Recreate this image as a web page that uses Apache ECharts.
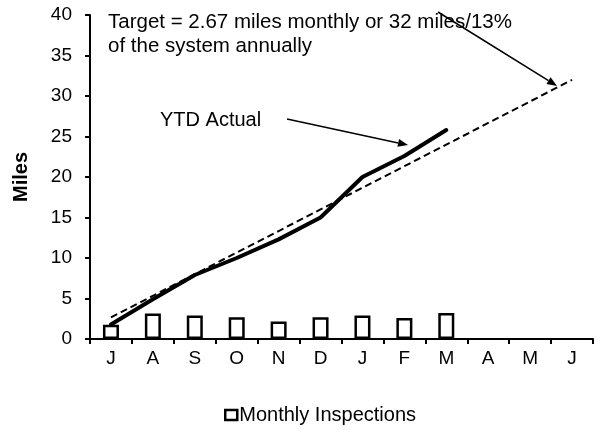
<!DOCTYPE html>
<html>
<head>
<meta charset="utf-8">
<script src="https://cdn.jsdelivr.net/npm/echarts@6/dist/echarts.min.js"></script>
<style>html,body{margin:0;padding:0;background:#fff;}#c{width:609px;height:430px;}</style>
</head>
<body>
<div id="c"></div>
<script>
const months = ['J','A','S','O','N','D','J','F','M','A','M','J'];
const monthlyInspections = [1.75, 3.15, 2.9, 2.7, 2.15, 2.7, 2.9, 2.6, 3.2, null, null, null];
const ytdActual = [1.8, 4.9, 7.9, 10.0, 12.3, 15.0, 20.0, 22.6, 25.8, null, null, null];
const target = [2.67, 5.33, 8.0, 10.67, 13.33, 16.0, 18.67, 21.33, 24.0, 26.67, 29.33, 32.0];
const yTicks = { min: 0, max: 40, interval: 5 };

const FONT = 'Liberation Sans, Arial, sans-serif';

function arrow(x1, y1, x2, y2) {
  const dx = x2 - x1, dy = y2 - y1, L = Math.hypot(dx, dy);
  const ux = dx / L, uy = dy / L, hl = 10, hw = 4;
  const bx = x2 - ux * hl, by = y2 - uy * hl;
  return [
    { type: 'line', z: 100, shape: { x1: x1, y1: y1, x2: bx, y2: by }, style: { stroke: '#000', lineWidth: 1.5 } },
    { type: 'polygon', z: 100, shape: { points: [[x2, y2], [bx - uy * hw, by + ux * hw], [bx + uy * hw, by - ux * hw]] }, style: { fill: '#000' } }
  ];
}

const chart = echarts.init(document.getElementById('c'), null, { renderer: 'canvas' });
chart.setOption({
  animation: false,
  backgroundColor: '#fff',
  textStyle: { fontFamily: FONT, color: '#000' },
  grid: { left: 90, right: 16, top: 15, bottom: 91, containLabel: false },
  legend: {
    data: ['Monthly Inspections'],
    left: 219, top: 400,
    itemWidth: 12, itemHeight: 10,
    icon: 'rect',
    itemStyle: { color: '#fff', borderColor: '#000', borderWidth: 2.5 },
    textStyle: { fontFamily: FONT, fontSize: 20, color: '#000', padding: [0, 0, 0, -3] }
  },
  xAxis: {
    type: 'category',
    data: months,
    boundaryGap: true,
    axisLine: { show: true, lineStyle: { color: '#000', width: 2 } },
    axisTick: { show: true, interval: 0, alignWithLabel: false, length: 5, lineStyle: { color: '#000', width: 2 } },
    axisLabel: { interval: 0, margin: 10, fontSize: 19, color: '#000', fontFamily: FONT },
    splitLine: { show: false }
  },
  yAxis: {
    type: 'value',
    min: yTicks.min, max: yTicks.max, interval: yTicks.interval,
    name: 'Miles',
    nameLocation: 'middle',
    nameGap: 59,
    nameTextStyle: { fontFamily: FONT, fontSize: 20, fontWeight: 'bold', color: '#000' },
    axisLine: { show: true, lineStyle: { color: '#000', width: 2 } },
    axisTick: { show: true, inside: false, length: 5, lineStyle: { color: '#000', width: 2 } },
    axisLabel: { margin: 18, fontSize: 19, color: '#000', fontFamily: FONT },
    splitLine: { show: false }
  },
  series: [
    {
      name: 'Monthly Inspections',
      type: 'bar',
      data: monthlyInspections,
      barWidth: 16,
      itemStyle: { color: '#fff', borderColor: '#000', borderWidth: 2.5 },
      z: 2
    },
    {
      name: 'Target',
      type: 'line',
      data: target,
      showSymbol: false,
      symbol: 'none',
      lineStyle: { color: '#000', width: 2, type: [7, 4] },
      z: 3
    },
    {
      name: 'YTD Actual',
      type: 'line',
      data: ytdActual,
      showSymbol: false,
      symbol: 'none',
      lineStyle: { color: '#000', width: 4, cap: 'round', join: 'round' },
      z: 4
    }
  ],
  graphic: [
    { type: 'text', left: 108, top: 10, z: 100,
      style: { text: 'Target = 2.67 miles monthly or 32 miles/13%\nof the system annually', font: '20.5px ' + FONT, fill: '#000', lineHeight: 24 } },
    { type: 'text', left: 160, top: 108, z: 100,
      style: { text: 'YTD Actual', font: '20px ' + FONT, fill: '#000', lineHeight: 24 } },
    ...arrow(438, 12, 557, 86),
    ...arrow(287, 119, 408, 145)
  ]
});
</script>
</body>
</html>
